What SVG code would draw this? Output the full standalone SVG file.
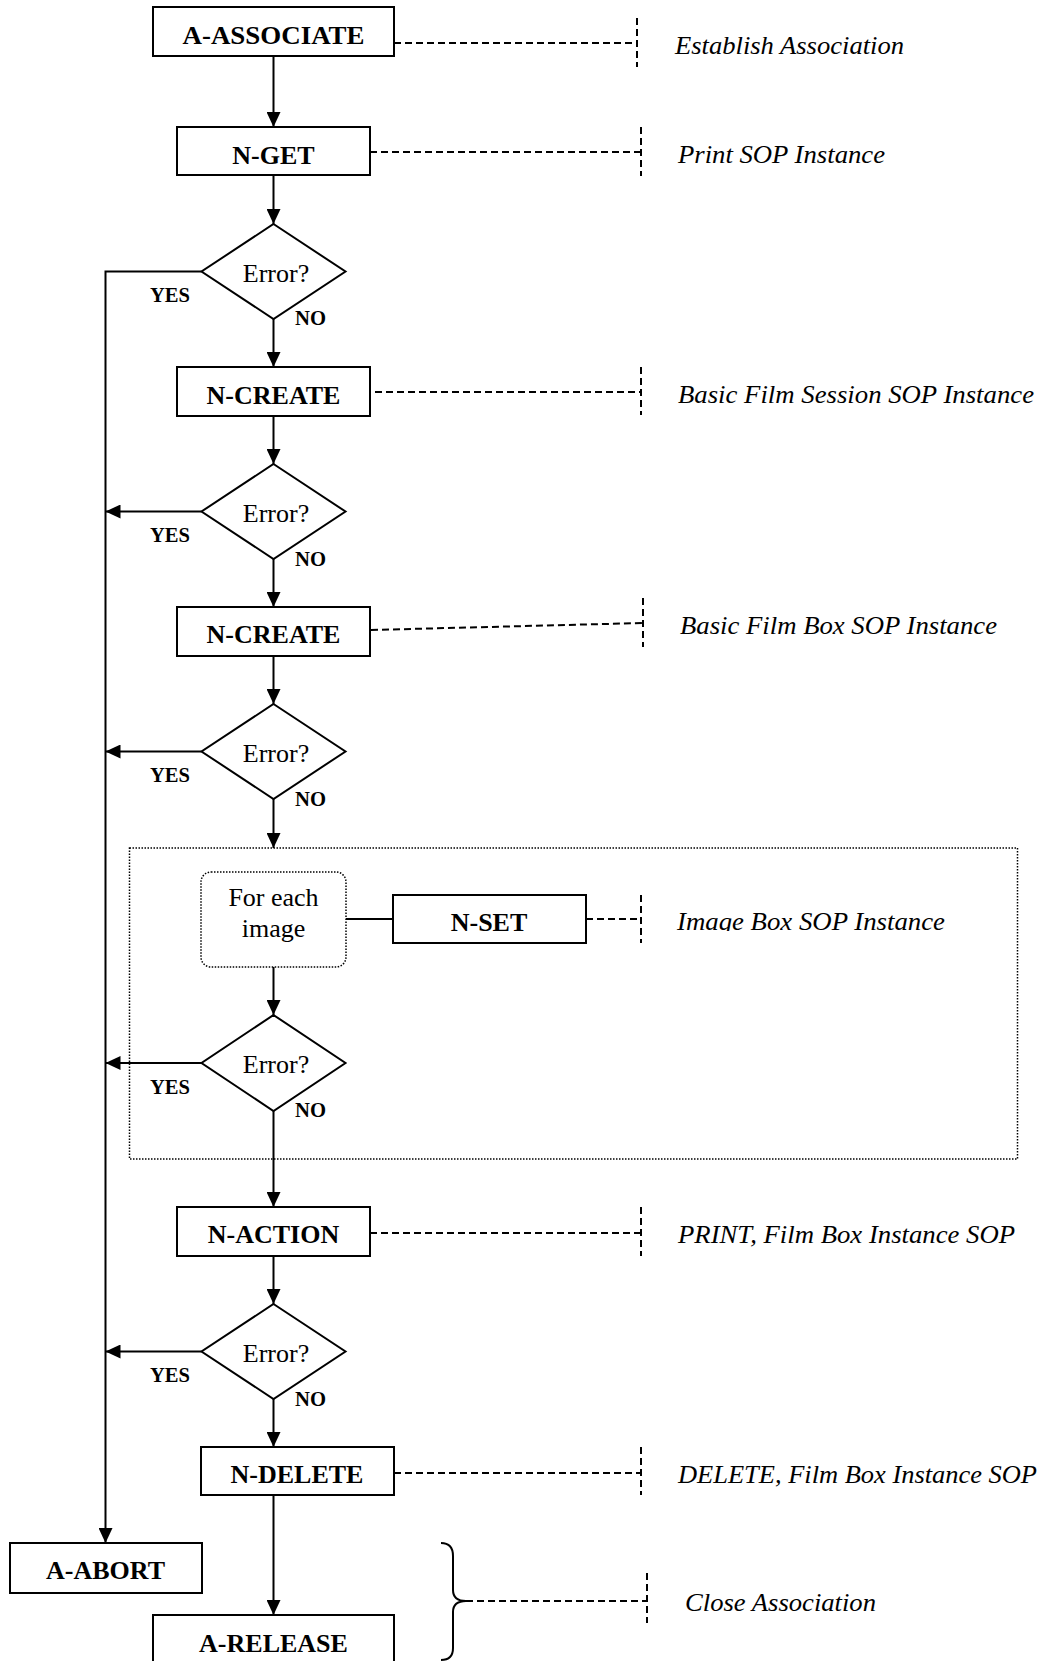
<svg xmlns="http://www.w3.org/2000/svg" width="1051" height="1661" viewBox="0 0 1051 1661">
<style>
.box{fill:#fff;stroke:#000;stroke-width:2}
.dia{fill:#fff;stroke:#000;stroke-width:2}
.lbl{font-family:"Liberation Serif","Times New Roman",serif;font-size:26px;font-weight:bold;text-anchor:middle;fill:#000}
.q{font-family:"Liberation Serif","Times New Roman",serif;font-size:26px;text-anchor:middle;fill:#000}
.yn{font-family:"Liberation Serif","Times New Roman",serif;font-size:21px;font-weight:bold;fill:#000}
.note{font-family:"Liberation Serif","Times New Roman",serif;font-size:25px;font-style:italic;fill:#000}
.con{fill:none;stroke:#000;stroke-width:2}
.arr{fill:none;stroke:#000;stroke-width:2;marker-end:url(#ah)}
.dash{fill:none;stroke:#000;stroke-width:2;stroke-dasharray:7 4}
.dot{fill:none;stroke:#000;stroke-width:1.5;stroke-dasharray:1.5 1.5}
</style>
<defs>
<marker id="ah" markerUnits="userSpaceOnUse" markerWidth="16" markerHeight="14" refX="15" refY="7" orient="auto">
<path d="M0,0 L15,7 L0,14 z" fill="#000"/>
</marker>
<clipPath id="clipImg"><rect x="670" y="890" width="300" height="41"/></clipPath>
</defs>

<g id="loop-frame">
<rect class="dot" x="129.5" y="848" width="888" height="311"/>
</g>

<g id="connectors">
<line class="arr" x1="273.5" y1="56" x2="273.5" y2="127"/>
<line class="arr" x1="273.5" y1="175" x2="273.5" y2="224"/>
<line class="arr" x1="273.5" y1="319" x2="273.5" y2="367"/>
<line class="arr" x1="273.5" y1="416" x2="273.5" y2="464"/>
<line class="arr" x1="273.5" y1="559" x2="273.5" y2="607"/>
<line class="arr" x1="273.5" y1="656" x2="273.5" y2="704"/>
<line class="arr" x1="273.5" y1="799" x2="273.5" y2="848"/>
<line class="arr" x1="273.5" y1="967" x2="273.5" y2="1015"/>
<line class="arr" x1="273.5" y1="1111" x2="273.5" y2="1207"/>
<line class="arr" x1="273.5" y1="1256" x2="273.5" y2="1304"/>
<line class="arr" x1="273.5" y1="1399" x2="273.5" y2="1447"/>
<line class="arr" x1="273.5" y1="1495" x2="273.5" y2="1615"/>
<polyline class="arr" points="201.5,271.5 105.5,271.5 105.5,1543"/>
<line class="arr" x1="201.5" y1="511.5" x2="105.5" y2="511.5"/>
<line class="arr" x1="201.5" y1="751.5" x2="105.5" y2="751.5"/>
<line class="arr" x1="201.5" y1="1063" x2="105.5" y2="1063"/>
<line class="arr" x1="201.5" y1="1351.5" x2="105.5" y2="1351.5"/>
<line class="con" x1="346" y1="919" x2="393" y2="919"/>
<text class="yn" x="150" y="302" textLength="40" lengthAdjust="spacingAndGlyphs">YES</text>
<text class="yn" x="295" y="325" textLength="31" lengthAdjust="spacingAndGlyphs">NO</text>
<text class="yn" x="150" y="542" textLength="40" lengthAdjust="spacingAndGlyphs">YES</text>
<text class="yn" x="295" y="565.5" textLength="31" lengthAdjust="spacingAndGlyphs">NO</text>
<text class="yn" x="150" y="782" textLength="40" lengthAdjust="spacingAndGlyphs">YES</text>
<text class="yn" x="295" y="805.5" textLength="31" lengthAdjust="spacingAndGlyphs">NO</text>
<text class="yn" x="150" y="1093.5" textLength="40" lengthAdjust="spacingAndGlyphs">YES</text>
<text class="yn" x="295" y="1117" textLength="31" lengthAdjust="spacingAndGlyphs">NO</text>
<text class="yn" x="150" y="1382" textLength="40" lengthAdjust="spacingAndGlyphs">YES</text>
<text class="yn" x="295" y="1405.5" textLength="31" lengthAdjust="spacingAndGlyphs">NO</text>
</g>

<g id="annotations">
<line class="dash" x1="394" y1="43" x2="637" y2="43"/>
<line class="dash" x1="637" y1="18" x2="637" y2="67"/>
<text class="note" x="675" y="54" textLength="229" lengthAdjust="spacingAndGlyphs">Establish Association</text>

<line class="dash" x1="370" y1="152" x2="641" y2="152"/>
<line class="dash" x1="641" y1="127" x2="641" y2="176"/>
<text class="note" x="678" y="163" textLength="207" lengthAdjust="spacingAndGlyphs">Print SOP Instance</text>

<line class="dash" x1="375" y1="392" x2="641" y2="392"/>
<line class="dash" x1="641" y1="367" x2="641" y2="415"/>
<text class="note" x="678" y="403" textLength="356" lengthAdjust="spacingAndGlyphs">Basic Film Session SOP Instance</text>

<line class="dash" x1="371" y1="630" x2="643" y2="623"/>
<line class="dash" x1="643" y1="598" x2="643" y2="647"/>
<text class="note" x="680" y="634" textLength="317" lengthAdjust="spacingAndGlyphs">Basic Film Box SOP Instance</text>

<line class="dash" x1="586" y1="919" x2="641" y2="919"/>
<line class="dash" x1="641" y1="895" x2="641" y2="943"/>
<text class="note" x="677" y="930" textLength="268" lengthAdjust="spacingAndGlyphs" clip-path="url(#clipImg)">Image Box SOP Instance</text>

<line class="dash" x1="370" y1="1233" x2="641" y2="1233"/>
<line class="dash" x1="641" y1="1207" x2="641" y2="1256"/>
<text class="note" x="678" y="1243" textLength="337" lengthAdjust="spacingAndGlyphs">PRINT, Film Box Instance SOP</text>

<line class="dash" x1="394" y1="1473" x2="641" y2="1473"/>
<line class="dash" x1="641" y1="1447" x2="641" y2="1495"/>
<text class="note" x="678" y="1483" textLength="359" lengthAdjust="spacingAndGlyphs">DELETE, Film Box Instance SOP</text>

<path class="con" d="M441,1543 Q453,1543 453,1556 L453,1590 Q453,1601 466,1601 Q453,1601 453,1612 L453,1648 Q453,1660 441,1660"/>
<line class="dash" x1="466" y1="1601" x2="647" y2="1601"/>
<line class="dash" x1="647" y1="1573" x2="647" y2="1623"/>
<text class="note" x="685" y="1611" textLength="191" lengthAdjust="spacingAndGlyphs">Close Association</text>
</g>

<g id="a-associate">
<rect class="box" x="153" y="7" width="241" height="49"/>
<text class="lbl" x="273.5" y="44" textLength="182" lengthAdjust="spacingAndGlyphs">A-ASSOCIATE</text>
</g>
<g id="n-get">
<rect class="box" x="177" y="127" width="193" height="48"/>
<text class="lbl" x="273.5" y="164">N-GET</text>
</g>
<g id="error-1">
<polygon class="dia" points="273.5,224 345.5,271.5 273.5,319 201.5,271.5"/>
<text class="q" x="276" y="282">Error?</text>
</g>
<g id="n-create-session">
<rect class="box" x="177" y="367" width="193" height="49"/>
<text class="lbl" x="273.5" y="404">N-CREATE</text>
</g>
<g id="error-2">
<polygon class="dia" points="273.5,464 345.5,511.5 273.5,559 201.5,511.5"/>
<text class="q" x="276" y="522">Error?</text>
</g>
<g id="n-create-filmbox">
<rect class="box" x="177" y="607" width="193" height="49"/>
<text class="lbl" x="273.5" y="643">N-CREATE</text>
</g>
<g id="error-3">
<polygon class="dia" points="273.5,704 345.5,751.5 273.5,799 201.5,751.5"/>
<text class="q" x="276" y="762">Error?</text>
</g>
<g id="for-each-image">
<rect class="dot" x="201" y="872" width="145" height="95" rx="10" ry="10"/>
<text class="q" x="273.5" y="906">For each</text>
<text class="q" x="273.5" y="937">image</text>
</g>
<g id="n-set">
<rect class="box" x="393" y="895" width="193" height="48"/>
<text class="lbl" x="489" y="931">N-SET</text>
</g>
<g id="error-4">
<polygon class="dia" points="273.5,1015 345.5,1063 273.5,1111 201.5,1063"/>
<text class="q" x="276" y="1073">Error?</text>
</g>
<g id="n-action">
<rect class="box" x="177" y="1207" width="193" height="49"/>
<text class="lbl" x="273.5" y="1243">N-ACTION</text>
</g>
<g id="error-5">
<polygon class="dia" points="273.5,1304 345.5,1351.5 273.5,1399 201.5,1351.5"/>
<text class="q" x="276" y="1362">Error?</text>
</g>
<g id="n-delete">
<rect class="box" x="201" y="1447" width="193" height="48"/>
<text class="lbl" x="297" y="1483">N-DELETE</text>
</g>
<g id="a-abort">
<rect class="box" x="10" y="1543" width="192" height="50"/>
<text class="lbl" x="105.5" y="1579">A-ABORT</text>
</g>
<g id="a-release">
<rect class="box" x="153" y="1615" width="241" height="60"/>
<text class="lbl" x="273.5" y="1652">A-RELEASE</text>
</g>
</svg>
